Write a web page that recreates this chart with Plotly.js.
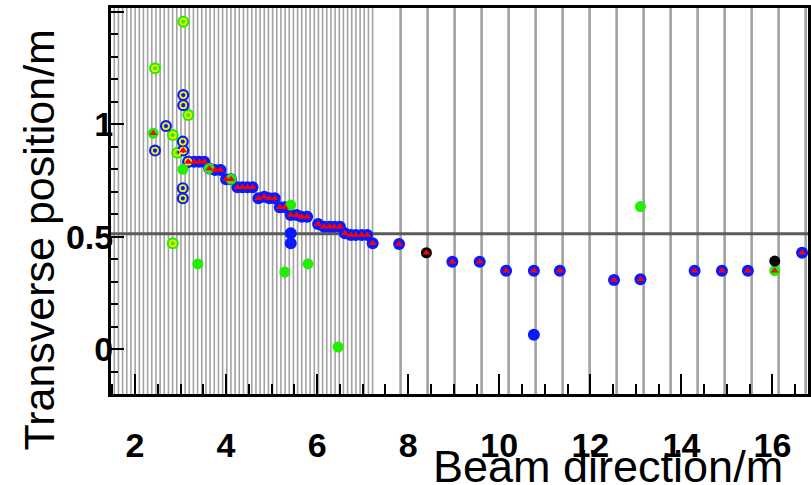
<!DOCTYPE html>
<html>
<head>
<meta charset="utf-8">
<script src="https://cdn.plot.ly/plotly-3.0.1.min.js"></script>
<style>
html,body{margin:0;padding:0;background:#fff;}
#chart{width:811px;height:485px;}
</style>
</head>
<body>
<div id="chart"></div>
<script>
// Blue hits (track and lone hits)
var blueX = [3.17, 3.30, 3.41, 3.52, 3.63, 3.76, 3.88, 4.00, 4.11, 4.25, 4.36, 4.47, 4.58, 4.71, 4.84, 4.95, 5.07, 5.18, 5.29, 5.42, 5.55, 5.66, 5.78, 6.02, 6.15, 6.27, 6.38, 6.50, 6.61, 6.74, 6.85, 6.98, 7.10, 7.22, 7.80, 8.97, 9.57, 10.15, 10.76, 11.33, 12.52, 13.10, 14.29, 14.89, 15.46, 16.65, 5.42, 5.42, 10.76];
var blueY = [0.834, 0.834, 0.834, 0.834, 0.804, 0.797, 0.797, 0.756, 0.756, 0.720, 0.720, 0.720, 0.720, 0.671, 0.678, 0.671, 0.671, 0.631, 0.631, 0.597, 0.597, 0.589, 0.589, 0.557, 0.545, 0.545, 0.545, 0.545, 0.516, 0.508, 0.508, 0.508, 0.508, 0.471, 0.468, 0.389, 0.389, 0.349, 0.349, 0.349, 0.308, 0.311, 0.349, 0.349, 0.349, 0.429, 0.516, 0.471, 0.064];

// Red reconstructed points (triangles)
var redX = [3.17, 3.30, 3.41, 3.52, 3.63, 3.76, 3.88, 4.00, 4.11, 4.25, 4.36, 4.47, 4.58, 4.71, 4.84, 4.95, 5.07, 5.18, 5.29, 5.42, 5.55, 5.66, 5.78, 6.02, 6.15, 6.27, 6.38, 6.50, 6.61, 6.74, 6.85, 6.98, 7.10, 7.22, 7.80, 8.40, 8.97, 9.57, 10.15, 10.76, 11.33, 12.52, 13.10, 14.29, 14.89, 15.46, 16.05, 16.65, 2.40, 3.06];
var redY = [0.834, 0.834, 0.834, 0.834, 0.804, 0.797, 0.797, 0.756, 0.756, 0.720, 0.720, 0.720, 0.720, 0.671, 0.678, 0.671, 0.671, 0.631, 0.631, 0.597, 0.597, 0.589, 0.589, 0.557, 0.545, 0.545, 0.545, 0.545, 0.516, 0.508, 0.508, 0.508, 0.508, 0.471, 0.468, 0.429, 0.389, 0.389, 0.349, 0.349, 0.349, 0.308, 0.311, 0.349, 0.349, 0.349, 0.349, 0.429, 0.960, 0.883];

// Green hits
var greenX = [2.40, 3.05, 3.63, 4.11, 5.42, 3.38, 5.29, 5.80, 6.46, 13.10, 16.05];
var greenY = [0.960, 0.800, 0.804, 0.756, 0.641, 0.379, 0.343, 0.379, 0.010, 0.634, 0.349];

// Black hits
var blackX = [8.40, 16.05];
var blackY = [0.429, 0.392];

// Blue hits with yellow ring
var blueRingX = [2.44, 2.68, 3.06, 3.06, 3.05, 3.05, 3.05, 3.06, 3.17];
var blueRingY = [0.883, 0.992, 1.130, 1.085, 0.923, 0.716, 0.671, 0.883, 0.834];

// Green hits with yellow ring
var greenRingX = [3.06, 2.44, 3.17, 2.83, 2.93, 2.83];
var greenRingY = [1.456, 1.249, 1.041, 0.952, 0.874, 0.471];

// Tick labels
var xTickVals = [2, 4, 6, 8, 10, 12, 14, 16];
var yTickVals = [0, 0.5, 1, 1.5];
var yTickText = ['0', '0.5', '1', ''];

// Detector planes (decoration)
var densePlaneStart = 1.545, densePlaneStep = 0.0915, densePlaneCount = 63;
var sparsePlaneStart = 7.833, sparsePlaneStep = 0.593, sparsePlaneCount = 16;
var cutY = 0.513;

var shapes = [];
for (var i = 0; i < densePlaneCount; i++) {
  var px = densePlaneStart + i * densePlaneStep;
  shapes.push({type:'line', layer:'below', xref:'x', yref:'paper', x0:px, x1:px, y0:0, y1:1,
    line:{color:'#a2a2a2', width:1.6}});
}
for (var j = 0; j < sparsePlaneCount; j++) {
  var sx = sparsePlaneStart + j * sparsePlaneStep;
  shapes.push({type:'line', layer:'below', xref:'x', yref:'paper', x0:sx, x1:sx, y0:0, y1:1,
    line:{color:'#a2a2a2', width:2.6}});
}
shapes.push({type:'line', layer:'below', xref:'paper', yref:'y', x0:0, x1:1, y0:cutY, y1:cutY,
  line:{color:'#5a5a5a', width:3}});

function pts(x, y, sym, color, size, extra) {
  var m = {symbol: sym, color: color, size: size, line: {width: 0}};
  if (extra) { for (var k in extra) m[k] = extra[k]; }
  return {type:'scatter', mode:'markers', x:x, y:y, marker:m, hoverinfo:'x+y', showlegend:false};
}

var traces = [
  pts(greenRingX, greenRingY, 'circle', '#22ee00', 12),
  pts(blueRingX, blueRingY, 'circle', '#0a1aff', 12),
  pts(blueX, blueY, 'circle', '#0a1aff', 12),
  pts(greenX, greenY, 'circle', '#22ee00', 11),
  pts(blackX, blackY, 'circle', '#000000', 11),
  pts(greenRingX, greenRingY, 'circle-open', '#f0f000', 6, {line:{width:1.8, color:'#f0f000'}}),
  pts(blueRingX, blueRingY, 'circle-open', '#f0f000', 6, {line:{width:1.8, color:'#f0f000'}}),
  pts(redX, redY, 'triangle-up', '#ff0000', 7)
];

var tickFont = {family:'"Liberation Sans Narrow", "Arial Narrow", "Liberation Sans", Arial, sans-serif', size:34, weight:'bold', color:'#000'};

var layout = {
  width: 811, height: 485,
  margin: {l:111, r:3, t:8, b:91, pad:0},
  paper_bgcolor:'#fff', plot_bgcolor:'#fff',
  showlegend:false,
  xaxis: {
    range:[1.473, 16.78], showgrid:false, zeroline:false,
    showline:true, linecolor:'#000', linewidth:3, mirror:true,
    tickmode:'array', tickvals:xTickVals, ticks:'inside', ticklen:20, tickwidth:2, tickcolor:'#000',
    minor:{tickmode:'linear', tick0:0, dtick:0.5, ticks:'inside', ticklen:10, tickwidth:2, tickcolor:'#000', showgrid:false},
    tickfont: tickFont, ticklabelstandoff: 19
  },
  yaxis: {
    range:[-0.199, 1.517], showgrid:false, zeroline:false,
    showline:true, linecolor:'#000', linewidth:3, mirror:true,
    tickmode:'array', tickvals:yTickVals, ticktext:yTickText, ticks:'inside', ticklen:13, tickwidth:2, tickcolor:'#000',
    minor:{tickmode:'linear', tick0:0, dtick:0.1, ticks:'inside', ticklen:7, tickwidth:2, tickcolor:'#000', showgrid:false},
    tickfont: tickFont, ticklabelstandoff: -12
  },
  shapes: shapes,
  annotations: [
    {text:'Beam direction/m', xref:'paper', yref:'paper', x:0.967, y:0, xanchor:'right', yanchor:'middle', yshift:-72,
     showarrow:false, font:{family:'"Liberation Sans", Arial, sans-serif', size:45, color:'#000'}},
    {text:'Transverse position/m', xref:'paper', yref:'paper', x:0, y:1, xanchor:'center', yanchor:'top', xshift:-73, yshift:-20,
     textangle:-90, showarrow:false, font:{family:'"Liberation Sans", Arial, sans-serif', size:43, color:'#000'}}
  ]
};

Plotly.newPlot('chart', traces, layout, {staticPlot:true, displayModeBar:false});
</script>
</body>
</html>
